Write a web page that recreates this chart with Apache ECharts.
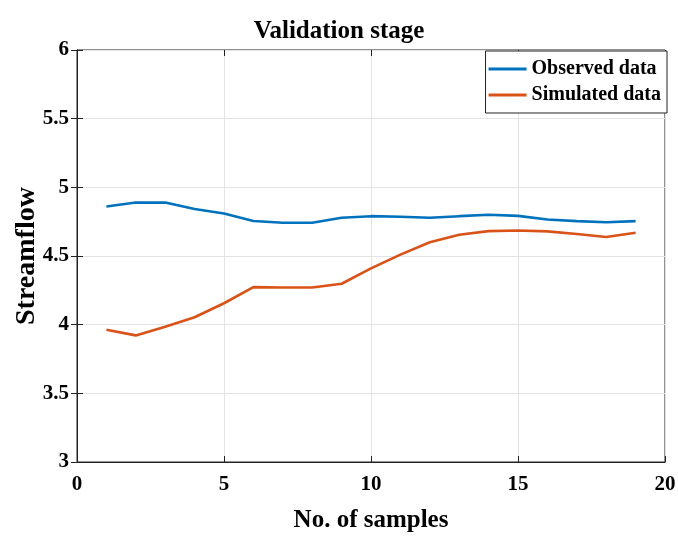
<!DOCTYPE html>
<html>
<head>
<meta charset="utf-8">
<script src="https://cdn.jsdelivr.net/npm/echarts@6/dist/echarts.min.js"></script>
<style>
  html, body { margin: 0; padding: 0; background: #fff; }
  #chart { width: 678px; height: 541px; }
</style>
</head>
<body>
<div id="chart"></div>
<script>
// sample numbers on the x axis
const samples = [1, 2, 3, 4, 5, 6, 7, 8, 9, 10, 11, 12, 13, 14, 15, 16, 17, 18, 19];
// streamflow
const observed = [4.86, 4.89, 4.889, 4.842, 4.81, 4.755, 4.742, 4.742, 4.779, 4.79,
                  4.786, 4.778, 4.79, 4.80, 4.792, 4.766, 4.754, 4.746, 4.754];
const simulated = [3.963, 3.922, 3.985, 4.054, 4.156, 4.273, 4.271, 4.271, 4.298, 4.41,
                   4.51, 4.60, 4.655, 4.681, 4.686, 4.679, 4.66, 4.638, 4.669];

const serif = "Liberation Serif";
const pairs = (ys) => samples.map((x, i) => [x, ys[i]]);

const chart = echarts.init(document.getElementById("chart"));

const hiddenAxis = {
    axisLine: { show: false },
    axisTick: { show: true, inside: true, length: 6, lineStyle: { color: "#222" } },
    axisLabel: { show: false },
    splitLine: { show: false }
};

chart.setOption({
    animation: false,
    title: {
        text: "Validation stage",
        left: "center",
        top: 14,
        textStyle: { fontFamily: serif, fontWeight: "bold", fontSize: 25, color: "#000" }
    },
    legend: {
        orient: "vertical",
        right: 11,
        top: 51,
        backgroundColor: "#fff",
        borderColor: "#222",
        borderWidth: 1,
        padding: [8, 6, 8, 3],
        itemGap: 6,
        itemWidth: 38,
        itemHeight: 3,
        icon: "rect",
        textStyle: { fontFamily: serif, fontWeight: "bold", fontSize: 20, color: "#000" },
        data: ["Observed data", "Simulated data"]
    },
    grid: {
        left: 77, right: 13, top: 50, bottom: 79,
        outerBoundsMode: "none",
        containLabel: false,
        show: true,
        borderColor: "#222",
        borderWidth: 1
    },
    xAxis: [{
        type: "value",
        min: 0, max: 20, interval: 5,
        name: "No. of samples",
        nameLocation: "middle",
        nameGap: 46,
        nameTextStyle: { fontFamily: serif, fontWeight: "bold", fontSize: 25, color: "#000" },
        axisLine: { lineStyle: { color: "#222" } },
        axisTick: { inside: true, length: 6, lineStyle: { color: "#222" } },
        axisLabel: { margin: 12, fontFamily: serif, fontWeight: "bold", fontSize: 21, color: "#000" },
        splitLine: { lineStyle: { color: "#e3e3e3" } }
    }, Object.assign({ type: "value", position: "top", min: 0, max: 20, interval: 5 }, hiddenAxis)],
    yAxis: [{
        type: "value",
        min: 3, max: 6, interval: 0.5,
        name: "Streamflow",
        nameLocation: "middle",
        nameGap: 36,
        nameMoveOverlap: false,
        nameTextStyle: { fontFamily: serif, fontWeight: "bold", fontSize: 28, color: "#000" },
        axisLine: { show: true, lineStyle: { color: "#222" } },
        axisTick: { show: true, inside: true, length: 6, lineStyle: { color: "#222" } },
        axisLabel: { margin: 8, fontFamily: serif, fontWeight: "bold", fontSize: 21, color: "#000" },
        splitLine: { lineStyle: { color: "#e3e3e3" } }
    }, Object.assign({ type: "value", position: "right", min: 3, max: 6, interval: 0.5 }, hiddenAxis)],
    series: [{
        name: "Observed data",
        type: "line",
        data: pairs(observed),
        showSymbol: false,
        symbol: "none",
        lineStyle: { color: "#0072BD", width: 2.6 },
        itemStyle: { color: "#0072BD" }
    }, {
        name: "Simulated data",
        type: "line",
        data: pairs(simulated),
        showSymbol: false,
        symbol: "none",
        lineStyle: { color: "#D95319", width: 2.6 },
        itemStyle: { color: "#D95319" }
    }]
});
</script>
</body>
</html>
